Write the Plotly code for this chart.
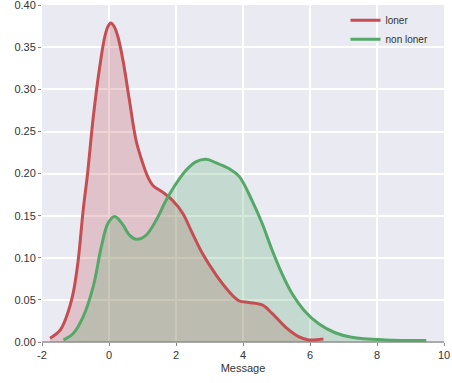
import plotly.graph_objects as go

# loner KDE curve
loner_x = [-1.76, -1.46, -1.27, -1.07, -0.92, -0.77, -0.64, -0.47, -0.28, -0.13, -0.04, 0.05, 0.15, 0.27, 0.42,
           0.61, 0.81, 1.01, 1.16, 1.31, 1.60, 1.90, 2.20, 2.49, 2.79, 3.19, 3.58, 3.88, 4.17,
           4.57, 4.87, 5.26, 5.66, 5.96, 6.40]
loner_y = [0.0045, 0.014, 0.030, 0.058, 0.097, 0.157, 0.200, 0.267, 0.326, 0.362, 0.374, 0.379, 0.375, 0.362, 0.334,
           0.287, 0.239, 0.212, 0.196, 0.186, 0.178, 0.168, 0.153, 0.129, 0.105, 0.080, 0.060, 0.049, 0.047,
           0.044, 0.034, 0.018, 0.0064, 0.0025, 0.0037]

# non loner KDE curve
nonloner_x = [-1.36, -1.07, -0.77, -0.47, -0.23, -0.03, 0.17, 0.42, 0.61, 0.83, 1.11, 1.41, 1.70,
              2.00, 2.30, 2.59, 2.90, 3.19, 3.58, 3.88, 4.27, 4.57, 4.87, 5.16, 5.46, 5.86, 6.25,
              6.75, 7.24, 8.23, 9.47]
nonloner_y = [0.0025, 0.010, 0.030, 0.066, 0.113, 0.141, 0.149, 0.139, 0.127, 0.122, 0.127, 0.145, 0.168,
              0.188, 0.204, 0.214, 0.217, 0.213, 0.206, 0.197, 0.168, 0.141, 0.109, 0.0815, 0.058, 0.036, 0.022,
              0.011, 0.0057, 0.0025, 0.0017]

x_ticks = [-2, 0, 2, 4, 6, 8, 10]
y_ticks = [0.00, 0.05, 0.10, 0.15, 0.20, 0.25, 0.30, 0.35, 0.40]

RED = "#C44E52"
GREEN = "#55A868"

fig = go.Figure()
# fills (no legend)
fig.add_trace(go.Scatter(x=loner_x, y=loner_y, mode="lines", showlegend=False, hoverinfo="skip",
                         line=dict(color="rgba(0,0,0,0)", width=0, shape="spline"),
                         fill="tozeroy", fillcolor="rgba(196,78,82,0.25)"))
fig.add_trace(go.Scatter(x=nonloner_x, y=nonloner_y, mode="lines", showlegend=False, hoverinfo="skip",
                         line=dict(color="rgba(0,0,0,0)", width=0, shape="spline"),
                         fill="tozeroy", fillcolor="rgba(85,168,104,0.25)"))
# lines
fig.add_trace(go.Scatter(x=loner_x, y=loner_y, mode="lines", name="loner",
                         line=dict(color=RED, width=3, shape="spline")))
fig.add_trace(go.Scatter(x=nonloner_x, y=nonloner_y, mode="lines", name="non loner",
                         line=dict(color=GREEN, width=3, shape="spline")))

fig.update_layout(
    width=452, height=383,
    margin=dict(l=42, r=8, t=5, b=41, autoexpand=False),
    paper_bgcolor="white", plot_bgcolor="#EAEAF2",
    font=dict(family="Liberation Sans, Arial, sans-serif", size=11, color="#333333"),
    showlegend=True,
    legend=dict(x=0.755, y=0.998, xanchor="left", yanchor="top",
                bgcolor="rgba(0,0,0,0)", font=dict(size=10, color="#333333"),
                itemwidth=30, tracegroupgap=0),
)
fig.update_xaxes(range=[-2, 10], tickvals=x_ticks, ticktext=[str(v) for v in x_ticks],
                 automargin=False, ticklabeloverflow="allow",
                 showgrid=True, gridcolor="white", gridwidth=1.5, zeroline=False,
                 ticks="outside", ticklen=3, tickcolor="#888888",
                 title=dict(text="Message", font=dict(size=11, color="#333333"), standoff=4),
                 showline=False)
fig.update_yaxes(range=[0, 0.4003], tickvals=y_ticks, ticktext=[f"{v:.2f}" for v in y_ticks],
                 automargin=False, ticklabeloverflow="allow",
                 showgrid=True, gridcolor="white", gridwidth=1.5,
                 zeroline=True, zerolinecolor="#AAAAAA", zerolinewidth=2,
                 ticks="outside", ticklen=3, tickcolor="#888888", showline=False)

fig.write_html("out.html", config={"displayModeBar": False},
               post_script="document.body.style.margin='0';")
